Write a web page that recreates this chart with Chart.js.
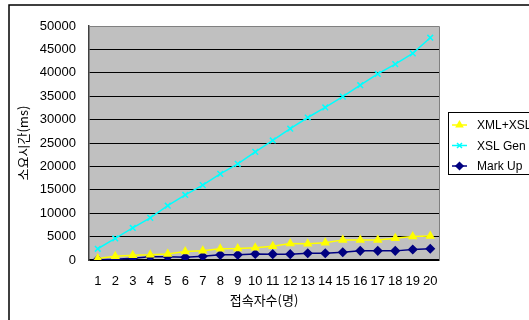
<!DOCTYPE html>
<html>
<head>
<meta charset="utf-8">
<script src="https://cdn.jsdelivr.net/npm/chart.js@4"></script>
<style>
  html, body { margin: 0; padding: 0; background: #fff; }
  #wrap { width: 529px; height: 320px; }
</style>
</head>
<body>
<div id="wrap"><canvas id="myChart"></canvas></div>
<script>
// data
const users = ['1','2','3','4','5','6','7','8','9','10','11','12','13','14','15','16','17','18','19','20'];
const xmlXsl = [300, 800, 1000, 1100, 1300, 1800, 2000, 2400, 2450, 2600, 2950, 3500, 3450, 3700, 4300, 4300, 4300, 4650, 5000, 5150];
const xslGen = [2400, 4600, 6850, 9000, 11600, 13900, 16000, 18400, 20550, 23100, 25550, 28050, 30450, 32600, 34900, 37350, 39750, 41850, 44150, 47500];
const markUp = [100, 150, 400, 700, 700, 600, 800, 1100, 1100, 1300, 1250, 1250, 1450, 1450, 1650, 1950, 1950, 1950, 2250, 2400];
const yTicks = [0, 5000, 10000, 15000, 20000, 25000, 30000, 35000, 40000, 45000, 50000];

const tickFont = { family: '"Liberation Sans", Arial, sans-serif', size: 13 };
const krFont = { family: '"Noto Sans CJK KR", sans-serif', size: 13 };

// plot background, outer frame, top/right border and the boxed legend
const excelLook = {
    id: 'excelLook',
    beforeDraw(chart) {
        const { ctx, chartArea: a } = chart;
        ctx.save();
        ctx.fillStyle = '#c0c0c0';
        ctx.fillRect(a.left, a.top, a.right - a.left, a.bottom - a.top);
        ctx.strokeStyle = '#000';
        ctx.lineWidth = 1.5;
        ctx.beginPath();
        ctx.moveTo(9, 330);
        ctx.lineTo(9, 5);
        ctx.lineTo(540, 5);
        ctx.stroke();
        ctx.restore();
    },
    afterDraw(chart) {
        const { ctx, chartArea: a } = chart;
        ctx.save();
        ctx.strokeStyle = '#808080';
        ctx.lineWidth = 1;
        ctx.beginPath();
        ctx.moveTo(a.left, a.top + 0.5);
        ctx.lineTo(a.right + 0.5, a.top + 0.5);
        ctx.lineTo(a.right + 0.5, a.bottom);
        ctx.stroke();

        // legend
        ctx.fillStyle = '#fff';
        ctx.fillRect(448, 112, 100, 62);
        ctx.strokeStyle = '#000';
        ctx.strokeRect(448.5, 112.5, 100, 62);
        chart.data.datasets.forEach((ds, i) => {
            const y = 125 + i * 20.5;
            ctx.strokeStyle = ds.borderColor;
            ctx.fillStyle = ds.pointBackgroundColor;
            ctx.lineWidth = 1.5;
            ctx.beginPath();
            ctx.moveTo(452, y);
            ctx.lineTo(467, y);
            ctx.stroke();
            Chart.helpers.drawPoint(ctx, {
                pointStyle: ds.pointStyle,
                radius: 3.5,
                rotation: 0,
                borderWidth: 1.5
            }, 459.5, y);
            ctx.fillStyle = '#000';
            ctx.font = '12px "Liberation Sans", Arial, sans-serif';
            ctx.textBaseline = 'middle';
            ctx.fillText(ds.label, 477, y + 1);
        });
        ctx.restore();
    }
};

new Chart(document.getElementById('myChart'), {
    type: 'line',
    data: {
        labels: users,
        datasets: [{
            label: 'XML+XSL',
            data: xmlXsl,
            borderColor: '#ffff00',
            backgroundColor: '#ffff00',
            pointBackgroundColor: '#ffff00',
            pointStyle: 'triangle',
            pointRadius: 4,
            borderWidth: 1.5
        }, {
            label: 'XSL Gen',
            data: xslGen,
            borderColor: '#00ffff',
            backgroundColor: '#00ffff',
            pointBackgroundColor: '#00ffff',
            pointStyle: 'crossRot',
            pointRadius: 4,
            borderWidth: 1.5
        }, {
            label: 'Mark Up',
            data: markUp,
            borderColor: '#000080',
            backgroundColor: '#000080',
            pointBackgroundColor: '#000080',
            pointStyle: 'rectRot',
            pointRadius: 4,
            borderWidth: 1.5
        }]
    },
    options: {
        responsive: true,
        maintainAspectRatio: false,
        animation: false,
        layout: { padding: { top: 26, right: 90, left: 0, bottom: 0 } },
        plugins: {
            legend: { display: false },
            tooltip: { enabled: false }
        },
        scales: {
            x: {
                offset: true,
                grid: { display: false, drawTicks: false },
                border: { color: '#000', width: 1.5 },
                ticks: { font: tickFont, color: '#000', padding: 14, maxRotation: 0, autoSkip: false },
                title: { display: true, text: '접속자수(명)', font: krFont, color: '#000', padding: { top: 0, bottom: 12 } },
                afterFit(scale) { scale.height = 60; }
            },
            y: {
                min: 0,
                max: 50000,
                afterBuildTicks(scale) { scale.ticks = yTicks.map(v => ({ value: v })); },
                grid: { color: '#000', lineWidth: 1, drawTicks: false },
                border: { color: '#404040', width: 1.5 },
                ticks: { font: tickFont, color: '#000', padding: 13, callback: v => String(v) },
                title: { display: true, text: '소요시간(ms)', font: krFont, color: '#000', padding: { top: 15, bottom: 0 } },
                afterFit(scale) { scale.width = 89; }
            }
        }
    },
    plugins: [excelLook]
});
</script>
</body>
</html>
